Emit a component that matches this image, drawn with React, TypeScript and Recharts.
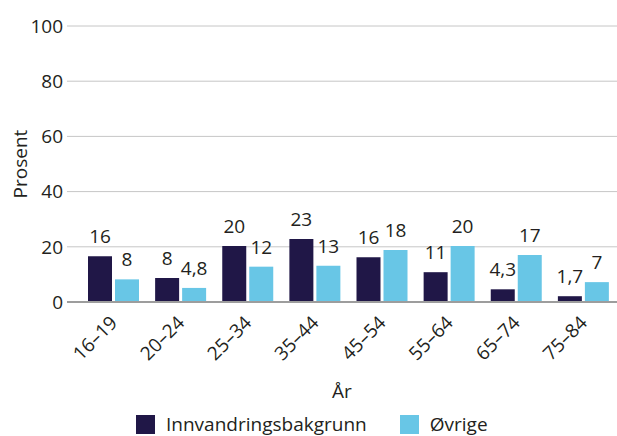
import { BarChart, Bar, XAxis, YAxis, CartesianGrid, Legend, LabelList, Label } from 'recharts'

const categories = ['16–19', '20–24', '25–34', '35–44', '45–54', '55–64', '65–74', '75–84']
const innvandring = [16.6, 8.7, 20.3, 22.8, 16.2, 10.8, 4.6, 2.1]
const ovrige = [8.2, 5.1, 12.8, 13.1, 18.8, 20.3, 17.0, 7.2]
const innvandringLabels = ['16', '8', '20', '23', '16', '11', '4,3', '1,7']
const ovrigeLabels = ['8', '4,8', '12', '13', '18', '20', '17', '7']
const yTicks = [0, 20, 40, 60, 80, 100]

const DARK = '#201747'
const LIGHT = '#68C6E6'
const TEXT = '#231f20'
const FONT = '"Open Sans", sans-serif'
const FS = 19

const data = categories.map((c, i) => ({
    age: c,
    innvandring: innvandring[i],
    ovrige: ovrige[i],
    innvandringLabel: innvandringLabels[i],
    ovrigeLabel: ovrigeLabels[i],
}))

const series = [
    { key: 'innvandring', name: 'Innvandringsbakgrunn', color: DARK },
    { key: 'ovrige', name: 'Øvrige', color: LIGHT },
]

function AgeTick({ x, y, payload }: any) {
    return (
        <text
            x={x + 5}
            y={y + 14}
            transform={`rotate(-45, ${x + 5}, ${y + 14})`}
            textAnchor="end"
            fill={TEXT}
            fontSize={FS}
            fontFamily={FONT}
        >
            {payload.value}
        </text>
    )
}

function LegendContent() {
    return (
        <div style={{ display: 'flex', paddingLeft: 136, paddingTop: 9, fontFamily: FONT, fontSize: FS, color: TEXT }}>
            {series.map((s) => (
                <div key={s.key} style={{ display: 'flex', alignItems: 'center', marginRight: 33 }}>
                    <span style={{ display: 'inline-block', width: 19, height: 19, background: s.color, marginRight: 11 }} />
                    <span>{s.name}</span>
                </div>
            ))}
        </div>
    )
}

export default function App() {
    return (
        <div style={{ position: 'absolute', left: 0, top: 0, width: 617, height: 436, background: '#fff' }}>
            <style>{'body{margin:0}'}</style>
            <BarChart
                width={617}
                height={436}
                data={data}
                margin={{ top: 26, right: 0, left: 0, bottom: 0 }}
                barSize={24}
                barGap={3}
            >
                <CartesianGrid vertical={false} stroke="#c6c6c6" strokeWidth={1} />
                <XAxis
                    dataKey="age"
                    height={100}
                    padding={{ left: 13, right: 0 }}
                    tickLine={false}
                    axisLine={{ stroke: '#9d9d9d', strokeWidth: 2 }}
                    tick={<AgeTick />}
                    interval={0}
                >
                    <Label value="År" position="insideBottom" offset={4} fill={TEXT} fontSize={FS} fontFamily={FONT} />
                </XAxis>
                <YAxis
                    width={67}
                    domain={[0, 100]}
                    ticks={yTicks}
                    axisLine={false}
                    tickLine={false}
                    tickSize={0}
                    tickMargin={4}
                    tick={{ fill: TEXT, fontSize: FS, fontFamily: FONT }}
                >
                    <Label
                        content={({ viewBox }: any) => (
                            <text
                                x={20}
                                y={viewBox.y + viewBox.height / 2}
                                transform={`rotate(-90, 20, ${viewBox.y + viewBox.height / 2})`}
                                textAnchor="middle"
                                dominantBaseline="central"
                                fill={TEXT}
                                fontSize={FS}
                                fontFamily={FONT}
                            >
                                Prosent
                            </text>
                        )}
                    />
                </YAxis>
                <Legend verticalAlign="bottom" wrapperStyle={{ height: 34, width: 617, left: 0 }} content={<LegendContent />} />
                {series.map((s) => (
                    <Bar key={s.key} dataKey={s.key} name={s.name} fill={s.color} isAnimationActive={false}>
                        <LabelList
                            dataKey={`${s.key}Label`}
                            position="top"
                            offset={13}
                            fill={TEXT}
                            fontSize={FS}
                            fontFamily={FONT}
                        />
                    </Bar>
                ))}
            </BarChart>
        </div>
    )
}
